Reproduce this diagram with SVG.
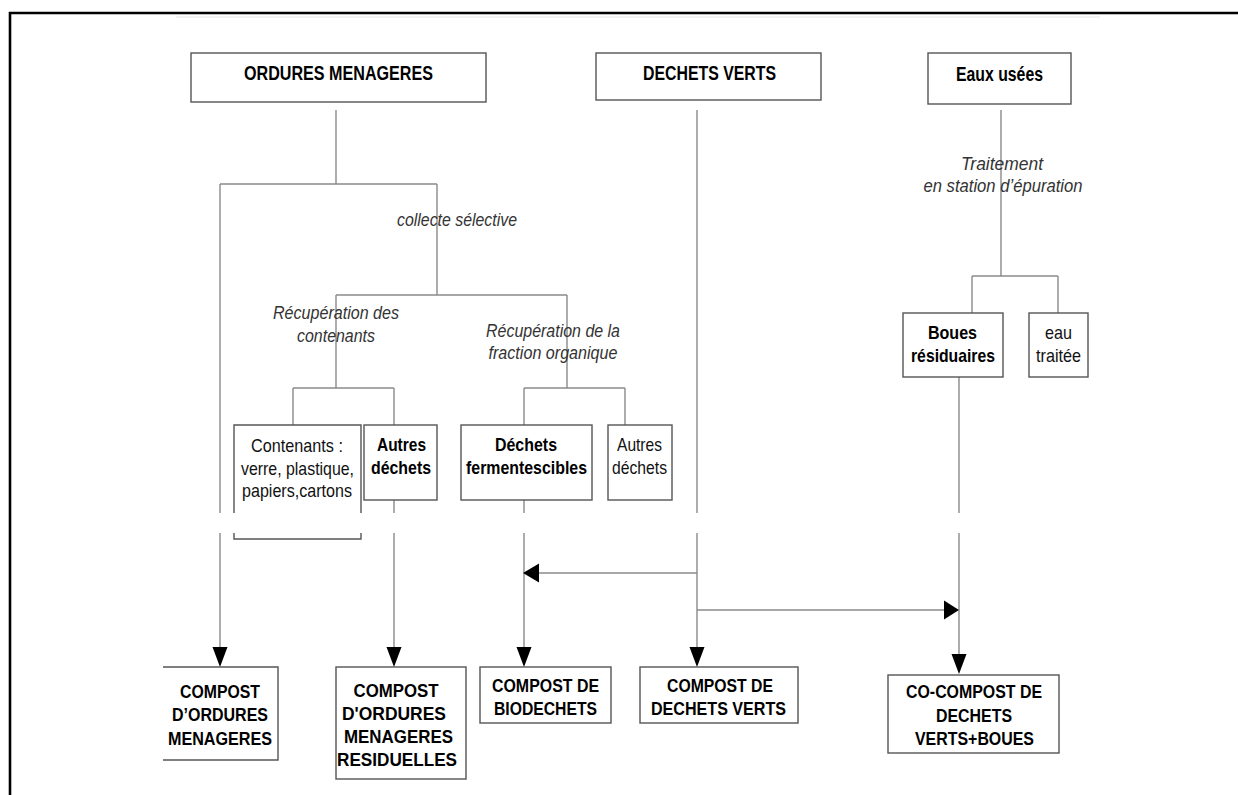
<svg xmlns="http://www.w3.org/2000/svg" width="1238" height="795" viewBox="0 0 1238 795">
<style>
.box{fill:#fff;stroke:#555;stroke-width:1.4}
.obox{fill:none;stroke:#555;stroke-width:1.4}
.ln{fill:none;stroke:#8a8a8a;stroke-width:1.4}
.ah{fill:#000;stroke:none}
text{font-family:"Liberation Sans",Arial,sans-serif;font-size:19px;fill:#111;text-anchor:middle}
.b{font-weight:bold;fill:#000}
.t{font-size:20px}
.i{font-style:italic;fill:#333;font-size:19px}
</style>
<rect x="0" y="0" width="1238" height="795" fill="#fff"/>
<path d="M10,795 V13 H1238" fill="none" stroke="#000" stroke-width="2.6"/>
<line x1="176" y1="17" x2="1100" y2="17" stroke="#e6e6e6" stroke-width="1.2"/>

<g id="connectors">
  <path class="ln" d="M336,110 V184 M220,184 H437 M220,184 V513 M220,533 V647 M437,184 V295 M336,295 H567 M336,295 V388 M293,388 H394 M293,388 V425 M394,388 V425 M567,295 V388 M524,388 H625 M524,388 V425 M625,388 V425"/>
  <path class="ln" d="M394,500 V513 M394,533 V647 M524,500 V513 M524,533 V647"/>
  <path class="ln" d="M697,110 V513 M697,533 V647 M539,573 H697 M697,610 H944"/>
  <path class="ln" d="M1001,110 V276 M972,276 H1058 M972,276 V313 M1058,276 V313 M959,377 V513 M959,533 V654"/>
  <polygon class="ah" points="212.5,647 227.5,647 220,667"/>
  <polygon class="ah" points="386.5,647 401.5,647 394,667"/>
  <polygon class="ah" points="516.5,647 531.5,647 524,667"/>
  <polygon class="ah" points="689.5,647 704.5,647 697,667"/>
  <polygon class="ah" points="951.5,654 966.5,654 959,674"/>
  <polygon class="ah" points="523,573 539,563.5 539,582.5"/>
  <polygon class="ah" points="959,610 944,600.5 944,619.5"/>
  <text class="i" x="457" y="226" textLength="120" lengthAdjust="spacingAndGlyphs">collecte sélective</text>
  <text class="i" x="336" y="319" textLength="126" lengthAdjust="spacingAndGlyphs">Récupération des</text>
  <text class="i" x="336" y="342" textLength="78" lengthAdjust="spacingAndGlyphs">contenants</text>
  <text class="i" x="553" y="337" textLength="134" lengthAdjust="spacingAndGlyphs">Récupération de la</text>
  <text class="i" x="553" y="359" textLength="129" lengthAdjust="spacingAndGlyphs">fraction organique</text>
  <text class="i" x="1002" y="170" textLength="82" lengthAdjust="spacingAndGlyphs">Traitement</text>
  <text class="i" x="1003" y="192" textLength="159" lengthAdjust="spacingAndGlyphs">en station d’épuration</text>
</g>

<g id="ordures-menageres">
  <rect class="box" x="191" y="53" width="295" height="49"/>
  <text class="b t" x="338.5" y="80" textLength="189" lengthAdjust="spacingAndGlyphs">ORDURES MENAGERES</text>
</g>
<g id="dechets-verts">
  <rect class="box" x="596" y="53" width="225" height="47"/>
  <text class="b t" x="709.5" y="80" textLength="133" lengthAdjust="spacingAndGlyphs">DECHETS VERTS</text>
</g>
<g id="eaux-usees">
  <rect class="box" x="928" y="53" width="143" height="51"/>
  <text class="b t" x="999.5" y="81" textLength="87" lengthAdjust="spacingAndGlyphs">Eaux usées</text>
</g>

<g id="contenants">
  <path class="obox" d="M234,513 V425 H361 V513 M234,533 V539 H361 V533"/>
  <text x="297" y="452" textLength="92" lengthAdjust="spacingAndGlyphs">Contenants :</text>
  <text x="297.5" y="475" textLength="113" lengthAdjust="spacingAndGlyphs">verre, plastique,</text>
  <text x="297" y="497" textLength="110" lengthAdjust="spacingAndGlyphs">papiers,cartons</text>
</g>
<g id="autres-dechets-1">
  <rect class="box" x="364" y="425" width="73" height="75"/>
  <text class="b" x="401.5" y="451" textLength="49" lengthAdjust="spacingAndGlyphs">Autres</text>
  <text class="b" x="401" y="474" textLength="60" lengthAdjust="spacingAndGlyphs">déchets</text>
</g>
<g id="dechets-fermentescibles">
  <rect class="box" x="461" y="425" width="131" height="75"/>
  <text class="b" x="526" y="451" textLength="62" lengthAdjust="spacingAndGlyphs">Déchets</text>
  <text class="b" x="526.5" y="474" textLength="121" lengthAdjust="spacingAndGlyphs">fermentescibles</text>
</g>
<g id="autres-dechets-2">
  <rect class="box" x="608" y="425" width="64" height="75"/>
  <text x="639.5" y="451" textLength="45" lengthAdjust="spacingAndGlyphs">Autres</text>
  <text x="639.5" y="474" textLength="55" lengthAdjust="spacingAndGlyphs">déchets</text>
</g>
<g id="boues-residuaires">
  <rect class="box" x="903" y="313" width="100" height="64"/>
  <text class="b" x="952.5" y="339" textLength="49" lengthAdjust="spacingAndGlyphs">Boues</text>
  <text class="b" x="953" y="362" textLength="84" lengthAdjust="spacingAndGlyphs">résiduaires</text>
</g>
<g id="eau-traitee">
  <rect class="box" x="1029" y="313" width="59" height="64"/>
  <text x="1058.5" y="339" textLength="27" lengthAdjust="spacingAndGlyphs">eau</text>
  <text x="1058.5" y="362" textLength="45" lengthAdjust="spacingAndGlyphs">traitée</text>
</g>

<g id="compost-om">
  <path class="obox" d="M163,667 H278 V760 H163"/>
  <text class="b" x="220" y="698" textLength="80" lengthAdjust="spacingAndGlyphs">COMPOST</text>
  <text class="b" x="220" y="721" textLength="96" lengthAdjust="spacingAndGlyphs">D’ORDURES</text>
  <text class="b" x="220" y="745" textLength="104" lengthAdjust="spacingAndGlyphs">MENAGERES</text>
</g>
<g id="compost-omr">
  <rect class="box" x="336" y="667" width="130" height="112"/>
  <text class="b" x="396" y="697" textLength="85" lengthAdjust="spacingAndGlyphs">COMPOST</text>
  <text class="b" x="394" y="720" textLength="104" lengthAdjust="spacingAndGlyphs">D'ORDURES</text>
  <text class="b" x="398.5" y="743" textLength="109" lengthAdjust="spacingAndGlyphs">MENAGERES</text>
  <text class="b" x="397" y="766" textLength="120" lengthAdjust="spacingAndGlyphs">RESIDUELLES</text>
</g>
<g id="compost-biodechets">
  <rect class="box" x="480" y="667" width="131" height="56"/>
  <text class="b" x="545.5" y="692" textLength="107" lengthAdjust="spacingAndGlyphs">COMPOST DE</text>
  <text class="b" x="545.5" y="715" textLength="103" lengthAdjust="spacingAndGlyphs">BIODECHETS</text>
</g>
<g id="compost-dechets-verts">
  <rect class="box" x="640" y="667" width="158" height="56"/>
  <text class="b" x="720" y="692" textLength="106" lengthAdjust="spacingAndGlyphs">COMPOST DE</text>
  <text class="b" x="718.5" y="715" textLength="135" lengthAdjust="spacingAndGlyphs">DECHETS VERTS</text>
</g>
<g id="co-compost">
  <rect class="box" x="888" y="675" width="171" height="78"/>
  <text class="b" x="974" y="698" textLength="136" lengthAdjust="spacingAndGlyphs">CO-COMPOST DE</text>
  <text class="b" x="974" y="722" textLength="76" lengthAdjust="spacingAndGlyphs">DECHETS</text>
  <text class="b" x="974.5" y="745" textLength="119" lengthAdjust="spacingAndGlyphs">VERTS+BOUES</text>
</g>
</svg>
